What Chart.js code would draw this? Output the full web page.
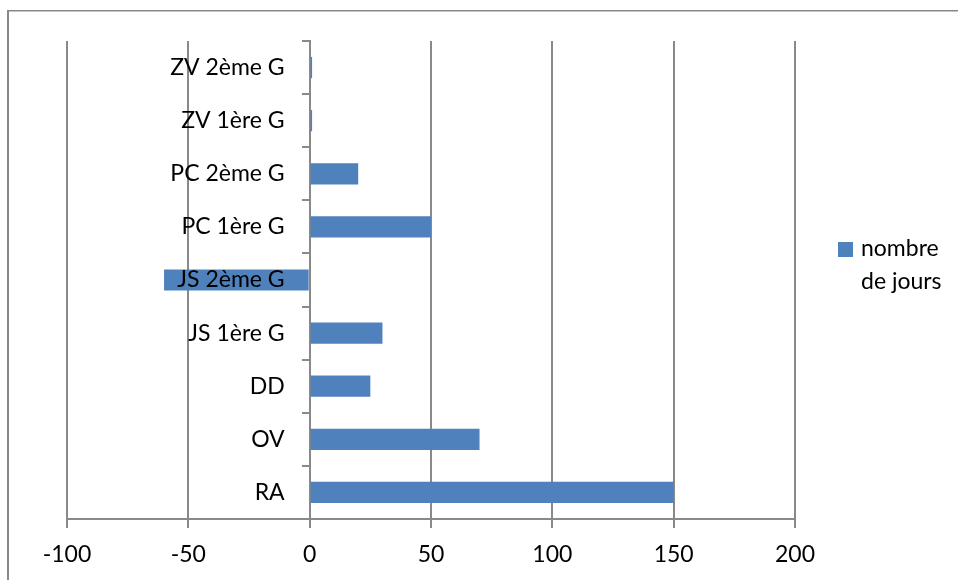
<!DOCTYPE html>
<html>
<head>
<meta charset="utf-8">
<script src="https://cdn.jsdelivr.net/npm/chart.js@4/dist/chart.umd.min.js"></script>
<style>
  html, body { margin: 0; padding: 0; background: #ffffff; }
  #wrap { width: 958px; height: 580px; }
</style>
</head>
<body>
<div id="wrap"><canvas id="c" width="958" height="580"></canvas></div>
<script>
const categories = ['ZV 2ème G', 'ZV 1ère G', 'PC 2ème G', 'PC 1ère G', 'JS 2ème G', 'JS 1ère G', 'DD', 'OV', 'RA'];
const joursValues = [1, 1, 20, 50, -60, 30, 25, 70, 150];
const seriesName = ['nombre', 'de jours'];
const xTicks = [-100, -50, 0, 50, 100, 150, 200];

const FONT = 'Lato, "Open Sans", sans-serif';
const FONT_SIZE = 23;
const GRID = '#898989';
const BAR = '#4F81BD';

const framePlugin = {
  id: 'frame',
  beforeDraw(chart) {
    const ctx = chart.ctx;
    ctx.save();
    ctx.fillStyle = '#ffffff';
    ctx.fillRect(0, 0, chart.width, chart.height);
    ctx.fillStyle = '#888888';
    ctx.fillRect(8, 10, chart.width - 8, 1.5);
    ctx.fillRect(7, 10, 2, chart.height - 10);
    ctx.restore();
  }
};

const catLabelPlugin = {
  id: 'catLabels',
  afterDatasetsDraw(chart) {
    const ctx = chart.ctx;
    const xs = chart.scales.x, ys = chart.scales.y;
    const x0 = xs.getPixelForValue(0);
    ctx.save();
    ctx.font = FONT_SIZE + 'px ' + FONT;
    ctx.fillStyle = '#000000';
    ctx.textAlign = 'right';
    ctx.textBaseline = 'middle';
    categories.forEach((lab, i) => {
      ctx.fillText(lab, x0 - 25, ys.getPixelForTick(i));
    });
    ctx.restore();
  }
};

const legendPlugin = {
  id: 'sideLegend',
  afterDraw(chart) {
    const ctx = chart.ctx;
    ctx.save();
    ctx.fillStyle = BAR;
    ctx.fillRect(838, 242, 15, 15);
    ctx.font = FONT_SIZE + 'px ' + FONT;
    ctx.fillStyle = '#000000';
    ctx.textAlign = 'left';
    ctx.textBaseline = 'middle';
    seriesName.forEach((t, i) => ctx.fillText(t, 861, 249 + i * 33));
    ctx.restore();
  }
};

new Chart(document.getElementById('c'), {
  type: 'bar',
  data: {
    labels: categories,
    datasets: [{
      label: seriesName.join(' '),
      data: joursValues,
      backgroundColor: BAR,
      borderWidth: 0,
      barPercentage: 0.4,
      categoryPercentage: 1.0
    }]
  },
  options: {
    indexAxis: 'y',
    responsive: false,
    animation: false,
    devicePixelRatio: 1,
    layout: { padding: { left: 67, right: 163, top: 41, bottom: 0 } },
    plugins: {
      legend: { display: false },
      tooltip: { enabled: false }
    },
    scales: {
      x: {
        type: 'linear',
        position: 'bottom',
        min: -100,
        max: 200,
        afterBuildTicks(scale) { scale.ticks = xTicks.map(v => ({ value: v })); },
        afterFit(scale) { scale.height = 61; },
        grid: { color: GRID, lineWidth: 2, tickLength: 9, drawTicks: true },
        border: { display: true, color: GRID, width: 2 },
        ticks: { color: '#000000', font: { family: FONT, size: FONT_SIZE }, padding: 13, maxRotation: 0 }
      },
      y: {
        type: 'category',
        position: { x: 0 },
        offset: true,
        grid: { display: true, drawOnChartArea: false, drawTicks: true, tickLength: 7, color: GRID, lineWidth: 2, offset: true },
        border: { display: true, color: GRID, width: 2 },
        ticks: { display: false }
      }
    }
  },
  plugins: [framePlugin, catLabelPlugin, legendPlugin]
});
</script>
</body>
</html>
